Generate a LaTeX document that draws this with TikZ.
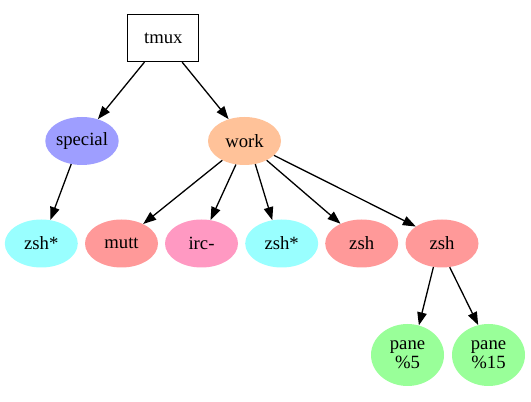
\documentclass[tikz,border=0pt]{standalone}
\usepackage{fontspec}
\setmainfont{Liberation Serif}
\usetikzlibrary{shapes.geometric,arrows.meta}
\definecolor{cspecial}{RGB}{158,158,255}
\definecolor{cwork}{RGB}{255,194,153}
\definecolor{ccyan}{RGB}{153,255,255}
\definecolor{cred}{RGB}{255,153,153}
\definecolor{cpink}{RGB}{255,153,194}
\definecolor{cgreen}{RGB}{153,255,153}
\begin{document}
\begin{tikzpicture}[x=1pt,y=1pt,
  font=\fontsize{18.7}{19}\selectfont,
  box/.style={draw,rectangle,line width=1.3pt,minimum width=71pt,minimum height=47pt,inner sep=0pt},
  oval/.style={ellipse,draw=none,fill=#1,minimum width=73pt,minimum height=48pt,inner sep=0pt},
  bigoval/.style={ellipse,draw=none,fill=#1,minimum width=73pt,minimum height=62pt,inner sep=0pt,align=center},
  edge/.style={line width=1.3pt,-{Triangle[length=13pt,width=9.5pt]}}]
\useasboundingbox (0,0) rectangle (531,402);
\node[box] (tmux) at (163.3,364) {tmux};
\node[oval=cspecial] (special) at (82,261) {special};
\node[oval=cwork] (work) at (244.5,261) {work};
\node[oval=ccyan] (zsha) at (41.3,158.5) {zsh*};
\node[oval=cred] (mutt) at (121.5,158.5) {mutt};
\node[oval=cpink] (irc) at (201.5,158.5) {irc-};
\node[oval=ccyan] (zshb) at (281.7,158.5) {zsh*};
\node[oval=cred] (zshc) at (361.7,158.5) {zsh};
\node[oval=cred] (zshd) at (442,158.5) {zsh};
\node[bigoval=cgreen] (pane5) at (407.5,47) {pane\\\%5};
\node[bigoval=cgreen] (pane15) at (488.5,47) {pane\\\%15};
\draw[edge] (tmux.232) -- (special.54);
\draw[edge] (tmux.308) -- (work.126);
\draw[edge] (special.245) -- (zsha.69);
\draw[edge] (work.221) -- (mutt.42);
\draw[edge] (work.250) -- (irc.69);
\draw[edge] (work.295) -- (zshb.112);
\draw[edge] (work.319) -- (zshc.137);
\draw[edge] (work.334) -- (zshd.147);
\draw[edge] (zshd.250) -- (pane5.69);
\draw[edge] (zshd.288) -- (pane15.109);
\end{tikzpicture}
\end{document}
